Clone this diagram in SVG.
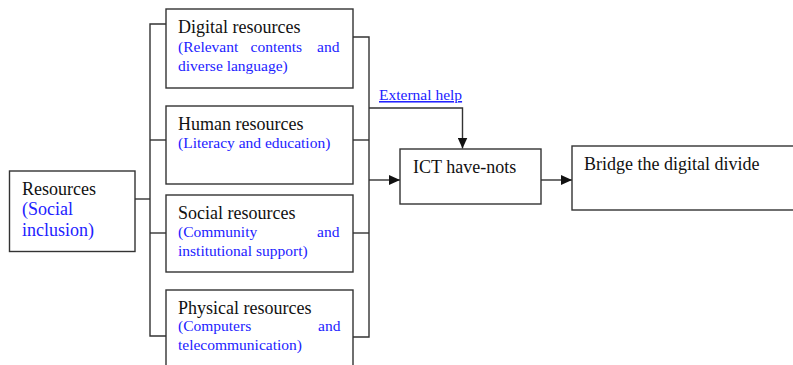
<svg xmlns="http://www.w3.org/2000/svg" width="793" height="365" viewBox="0 0 793 365">
<style>
.box{fill:#fff;stroke:#333;stroke-width:1.4}
.ln{fill:none;stroke:#333;stroke-width:1.4}
.t{font-family:"Liberation Serif","Times New Roman",serif;font-size:18px;fill:#111}
.b{font-family:"Liberation Serif","Times New Roman",serif;font-size:15.5px;fill:#2222ff}
.bl{font-family:"Liberation Serif","Times New Roman",serif;font-size:18px;fill:#2222ff}
</style>
<defs>
<marker id="ah" markerWidth="11" markerHeight="10" refX="11" refY="5" orient="auto" markerUnits="userSpaceOnUse">
<path d="M0,0 L11,5 L0,10 Z" fill="#111"/>
</marker>
</defs>
<rect width="793" height="365" fill="#fff"/>
<g id="connectors">
<path class="ln" d="M135,199 H150"/>
<path class="ln" d="M166,24 H150 V336 H166"/>
<path class="ln" d="M150,140 H166"/>
<path class="ln" d="M150,233 H166"/>
<path class="ln" d="M353,37 H369 V337 H353"/>
<path class="ln" d="M353,140 H369"/>
<path class="ln" d="M353,233 H369"/>
<path class="ln" d="M369,108 H462.5 V148.5" marker-end="url(#ah)"/>
<path class="ln" d="M369,180 H400" marker-end="url(#ah)"/>
<path class="ln" d="M541,180 H572" marker-end="url(#ah)"/>
<text class="b" x="379" y="100" text-decoration="underline">External help</text>
</g>
<g id="resources">
<rect class="box" x="9.5" y="171" width="125.5" height="80.5"/>
<text class="t" x="22" y="195">Resources</text>
<text class="bl" x="22" y="215">(Social</text>
<text class="bl" x="22" y="236">inclusion)</text>
</g>
<g id="digital">
<rect class="box" x="166" y="9" width="187" height="79"/>
<text class="t" x="178" y="33">Digital resources</text>
<text class="b" x="178" y="51.5">(Relevant</text>
<text class="b" x="250.5" y="51.5">contents</text>
<text class="b" x="339.5" y="51.5" text-anchor="end">and</text>
<text class="b" x="178" y="70.5">diverse language)</text>
</g>
<g id="human">
<rect class="box" x="166" y="106" width="187" height="78"/>
<text class="t" x="178" y="129.5">Human resources</text>
<text class="b" x="178" y="148">(Literacy and education)</text>
</g>
<g id="social">
<rect class="box" x="166" y="195" width="187" height="77"/>
<text class="t" x="178" y="218.5">Social resources</text>
<text class="b" x="178" y="236.5">(Community</text>
<text class="b" x="339.5" y="236.5" text-anchor="end">and</text>
<text class="b" x="178" y="256">institutional support)</text>
</g>
<g id="physical">
<rect class="box" x="166" y="290" width="187" height="80"/>
<text class="t" x="178" y="313.5">Physical resources</text>
<text class="b" x="178" y="330.5">(Computers</text>
<text class="b" x="340.5" y="330.5" text-anchor="end">and</text>
<text class="b" x="178" y="350">telecommunication)</text>
</g>
<g id="ict">
<rect class="box" x="400" y="149" width="141" height="55"/>
<text class="t" x="413" y="173">ICT have-nots</text>
</g>
<g id="bridge">
<rect class="box" x="572" y="146" width="225" height="64"/>
<text class="t" x="584" y="170">Bridge the digital divide</text>
</g>
</svg>
